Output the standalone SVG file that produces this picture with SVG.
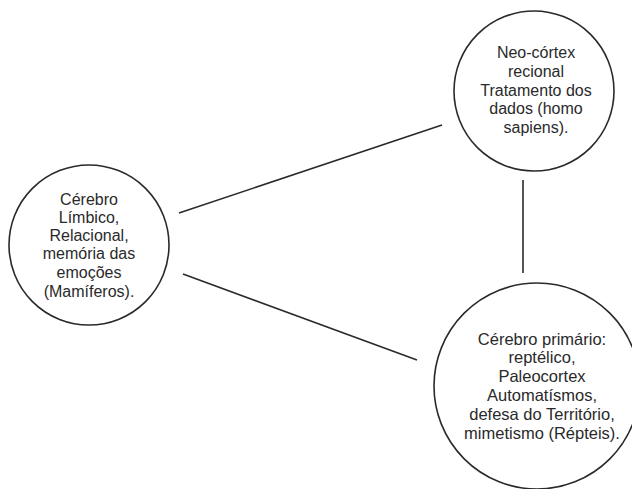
<svg xmlns="http://www.w3.org/2000/svg" width="632" height="489" viewBox="0 0 632 489">
<style>
.node circle{fill:none;stroke:#2a2a2a;stroke-width:1.6}
.node text{font-family:"Liberation Sans",Arial,sans-serif;font-size:16px;fill:#2a2a2a;text-anchor:middle}
#primario text{font-size:16.5px}
.edges line{stroke:#2a2a2a;stroke-width:1.6}
</style>
<rect width="632" height="489" fill="#fff"/>
<g class="edges">
<line x1="179" y1="213" x2="442" y2="125"/>
<line x1="183" y1="274" x2="417" y2="360"/>
<line x1="523" y1="180" x2="523" y2="273"/>
</g>
<g id="neo" class="node">
<circle cx="534" cy="91" r="80"/>
<text x="536" y="58">Neo-córtex</text>
<text x="536" y="77">recional</text>
<text x="536" y="96">Tratamento dos</text>
<text x="536" y="114">dados (homo</text>
<text x="536" y="133">sapiens).</text>
</g>
<g id="limbico" class="node">
<circle cx="89" cy="245" r="80"/>
<text x="89" y="205">Cérebro</text>
<text x="89" y="223">Límbico,</text>
<text x="89" y="241">Relacional,</text>
<text x="89" y="259">memória das</text>
<text x="89" y="278">emoções</text>
<text x="89" y="297">(Mamíferos).</text>
</g>
<g id="primario" class="node">
<circle cx="537" cy="386" r="103"/>
<text x="542" y="345">Cérebro primário:</text>
<text x="542" y="363">reptélico,</text>
<text x="542" y="382">Paleocortex</text>
<text x="542" y="401">Automatísmos,</text>
<text x="542" y="420">defesa do Território,</text>
<text x="542" y="439">mimetismo (Répteis).</text>
</g>
</svg>
